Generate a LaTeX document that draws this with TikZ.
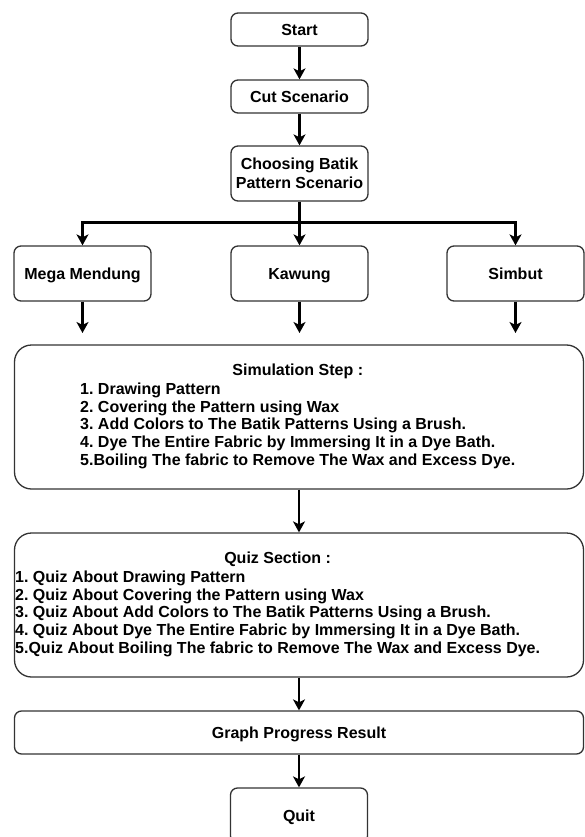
\documentclass[tikz,border=0pt]{standalone}
\usepackage{fontspec}
\setmainfont{Liberation Sans}
\usetikzlibrary{arrows.meta, calc}

\begin{document}
\frenchspacing
\begin{tikzpicture}[x=1pt, y=-1pt, >={Stealth[length=11pt, width=12pt, inset=3pt]},
    font=\fontsize{16}{17.8}\selectfont\bfseries,
    box/.style={draw=black!80, line width=1.3pt, rounded corners=7pt, align=center, inner sep=0pt},
    oneline/.style={text height=11.4pt, text depth=0pt},
    smallbox/.style={box, oneline, minimum width=137pt, minimum height=33pt},
    midbox/.style={box, oneline, minimum width=137pt, minimum height=55pt},
    widebox/.style={box, rounded corners=17pt, minimum width=569pt, minimum height=144pt},
    flow/.style={->, line width=2.4pt}]
  \useasboundingbox (0,0) rectangle (584,837);
  % ===== scenario =====
  \node[smallbox] (start) at (299.5,29.5) {Start};
  \node[smallbox] (cut) at (299.5,96.5) {Cut Scenario};
  \node[box, minimum width=137pt, minimum height=55pt] (choose) at (299.5,173.5) {Choosing Batik\\[1pt]Pattern Scenario};
  \draw[flow] (start) -- (cut);
  \draw[flow] (cut) -- (choose);
  % ===== patterns =====
  \node[midbox] (mega) at (82.5,273.5) {Mega Mendung};
  \node[midbox] (kawung) at (299.5,273.5) {Kawung};
  \node[midbox] (simbut) at (515.5,273.5) {Simbut};
  \coordinate (split) at (299.5,222.5);
  \draw[flow] (choose) -- (kawung);
  \draw[flow] (split) -| (mega);
  \draw[flow] (split) -| (simbut);
  \coordinate (megaend) at (82.5,333); \coordinate (kawungend) at (299.5,333); \coordinate (simbutend) at (515.5,333);
  \draw[flow] (mega) -- (megaend);
  \draw[flow] (kawung) -- (kawungend);
  \draw[flow] (simbut) -- (simbutend);
  % ===== simulation =====
  \node[widebox] (sim) at (299,417) {};
  \node[anchor=west, inner sep=0pt] (simtext) at (80,417) {\begin{tabular}{@{}l@{}}
    \multicolumn{1}{@{}c@{}}{Simulation Step :}\\[1pt]
    1. Drawing Pattern\\
    2. Covering the Pattern using Wax\\
    3. Add Colors to The Batik Patterns Using a Brush.\\
    4. Dye The Entire Fabric by Immersing It in a Dye Bath.\\
    5.Boiling The fabric to Remove The Wax and Excess Dye.
  \end{tabular}};
  % ===== quiz =====
  \node[widebox] (quiz) at (299,605) {};
  \node[anchor=west, inner sep=0pt] (quiztext) at (15,605) {\begin{tabular}{@{}l@{}}
    \multicolumn{1}{@{}c@{}}{Quiz Section :}\\[1pt]
    1. Quiz About Drawing Pattern\\
    2. Quiz About Covering the Pattern using Wax\\
    3. Quiz About Add Colors to The Batik Patterns Using a Brush.\\
    4. Quiz About Dye The Entire Fabric by Immersing It in a Dye Bath.\\
    5.Quiz About Boiling The fabric to Remove The Wax and Excess Dye.
  \end{tabular}};
  \draw[flow] (sim) -- (quiz);
  % ===== result =====
  \node[box, oneline, minimum width=569pt, minimum height=43pt] (graph) at (299,732.5) {Graph Progress Result};
  \node[midbox] (quit) at (299,815.5) {Quit};
  \draw[flow] (quiz) -- (graph);
  \draw[flow] (graph) -- (quit);
\end{tikzpicture}
\end{document}
